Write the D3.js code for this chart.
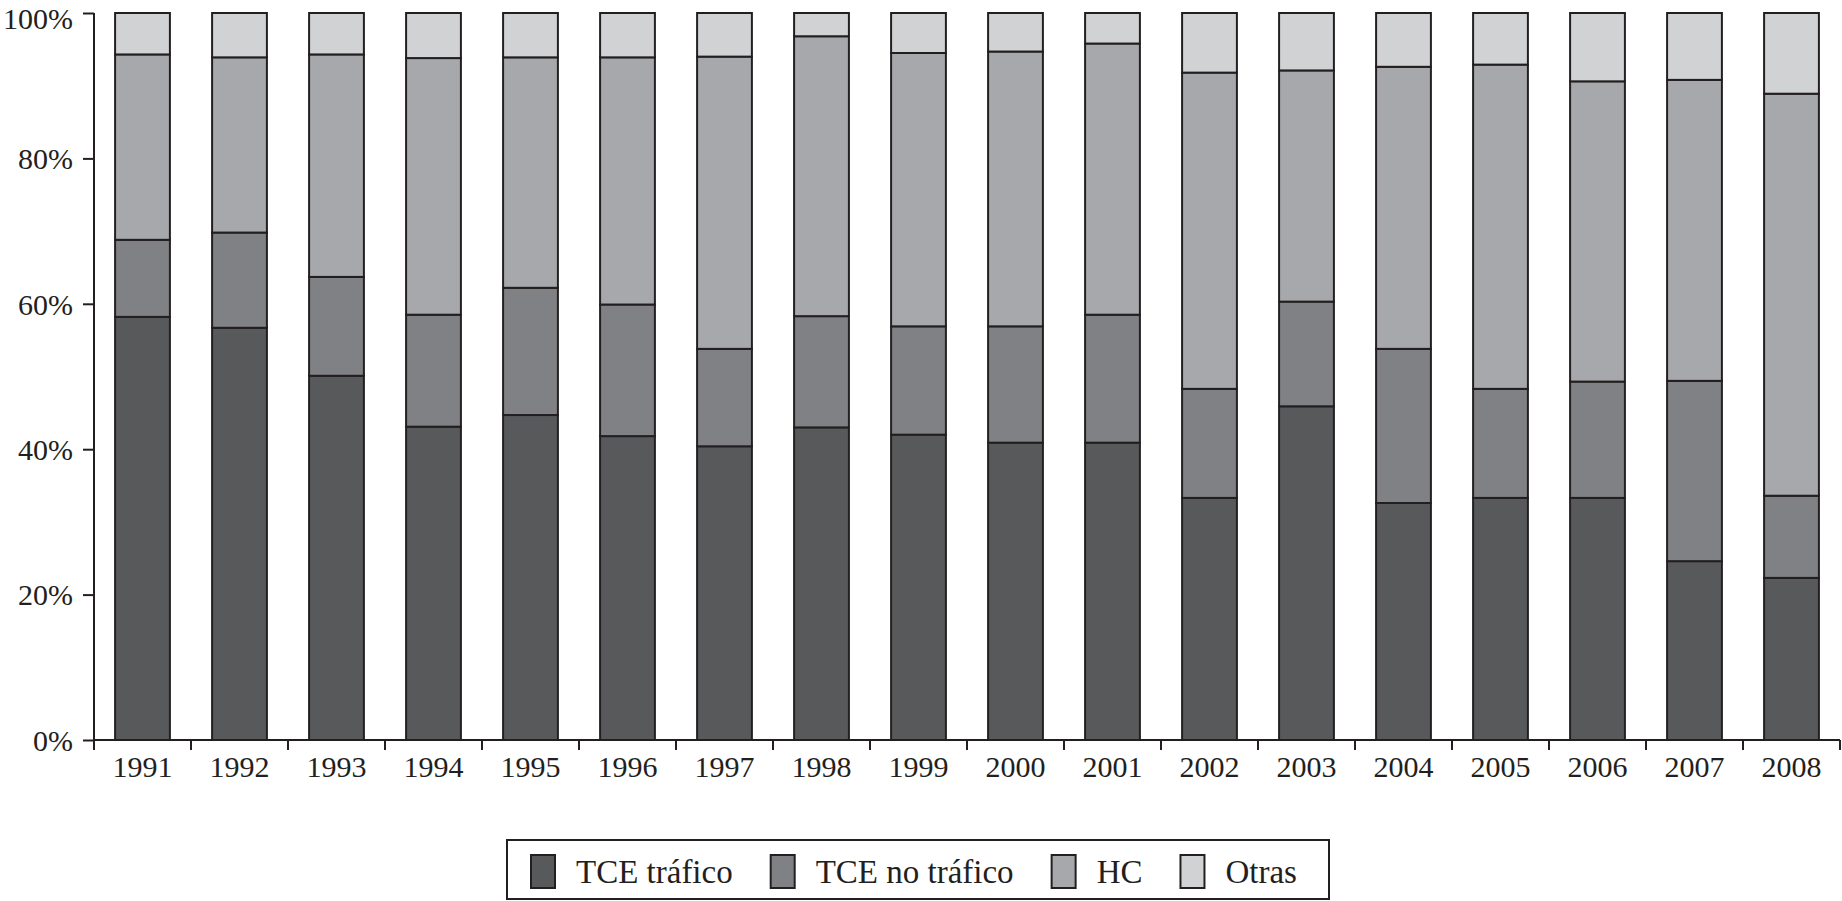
<!DOCTYPE html>
<html><head><meta charset="utf-8">
<script src="https://cdn.jsdelivr.net/npm/d3@7"></script>
<style>html,body{margin:0;padding:0;background:#fff;} svg{display:block;}</style>
</head><body>
<svg id="chart" width="1842" height="901"></svg>
<script>
const years = ["1991","1992","1993","1994","1995","1996","1997","1998","1999","2000","2001","2002","2003","2004","2005","2006","2007","2008"];
const seriesNames = ["TCE tráfico","TCE no tráfico","HC","Otras"];
const tceTrafico   = [58.2,56.7,50.1,43.1,44.7,41.8,40.4,43.0,42.0,40.9,40.9,33.3,45.9,32.6,33.3,33.3,24.6,22.3];
const tceNoTrafico = [10.6,13.1,13.6,15.4,17.5,18.1,13.4,15.3,14.9,16.0,17.6,15.0,14.4,21.2,15.0,16.0,24.8,11.3];
const hc           = [25.5,24.1,30.6,35.3,31.7,34.0,40.2,38.5,37.6,37.8,37.3,43.5,31.8,38.8,44.6,41.3,41.4,55.3];
const otras        = [5.7,6.1,5.7,6.2,6.1,6.1,6.0,3.2,5.5,5.3,4.2,8.2,7.9,7.4,7.1,9.4,9.2,11.1];
const yTicks = [0,20,40,60,80,100];
const colors = ["#58595b","#808184","#a7a8ab","#d1d2d4"];

const table = years.map((y,i)=>({year:y,"TCE tráfico":tceTrafico[i],"TCE no tráfico":tceNoTrafico[i],"HC":hc[i],"Otras":otras[i]}));
const stacked = d3.stack().keys(seriesNames).offset(d3.stackOffsetExpand)(table);

const svg = d3.select("#chart");
const font = "'Liberation Serif','Times New Roman',serif";
const x0 = 94, x1 = 1840, yTop = 13, yBot = 740;
const x = d3.scaleBand().domain(years).range([x0,x1]).padding(0);
const y = d3.scaleLinear().domain([0,1]).range([yBot,yTop]);
const barW = x.bandwidth()*0.565;
const stroke = "#231f20";

svg.append("g").selectAll("g").data(stacked).join("g")
  .attr("fill",(d,i)=>colors[i])
  .selectAll("rect").data(d=>d).join("rect")
  .attr("x",d=>x(d.data.year)+(x.bandwidth()-barW)/2)
  .attr("width",barW)
  .attr("y",d=>y(d[1]))
  .attr("height",d=>y(d[0])-y(d[1]))
  .attr("stroke",stroke).attr("stroke-width",2);

// Y axis
const yAxis = svg.append("g").attr("transform",`translate(${x0},0)`)
  .call(d3.axisLeft(y).tickValues(yTicks.map(v=>v/100)).tickFormat(v=>Math.round(v*100)+"%").tickSize(11).tickPadding(10));
yAxis.select(".domain").attr("d",`M0,${yTop}V${yBot}`).attr("stroke",stroke).attr("stroke-width",2);
yAxis.selectAll(".tick line").attr("stroke",stroke).attr("stroke-width",2);
yAxis.selectAll("text").attr("font-family",font).attr("font-size",30).attr("fill","#231f20")
  .attr("dy",d=>d===1?"0.5em":"0.34em");

// X axis
const xAxis = svg.append("g").attr("transform",`translate(0,${yBot})`)
  .call(d3.axisBottom(x).tickSize(0).tickPadding(16));
xAxis.select(".domain").attr("d",`M${x0},0H${x1}`).attr("stroke",stroke).attr("stroke-width",2);
xAxis.selectAll("text").attr("font-family",font).attr("font-size",30).attr("fill","#231f20").attr("dy","0.71em");
const bounds = years.map(yv=>x(yv)).concat([x1]);
xAxis.selectAll(".sep").data(bounds).join("line").attr("class","sep")
  .attr("x1",d=>d).attr("x2",d=>d).attr("y1",0).attr("y2",10)
  .attr("stroke",stroke).attr("stroke-width",2);

// Legend
const lg = svg.append("g");
lg.append("rect").attr("x",507).attr("y",840).attr("width",822).attr("height",59)
  .attr("fill","#fff").attr("stroke",stroke).attr("stroke-width",2);
let cx = 531;
seriesNames.forEach((name,i)=>{
  lg.append("rect").attr("x",cx).attr("y",855).attr("width",24).attr("height",33)
    .attr("fill",colors[i]).attr("stroke",stroke).attr("stroke-width",2);
  const t = lg.append("text").attr("x",cx+45).attr("y",883).attr("font-family",font).attr("font-size",33)
    .attr("fill","#231f20").text(name);
  cx = cx + 45 + t.node().getComputedTextLength() + 38;
});
</script>
</body></html>
